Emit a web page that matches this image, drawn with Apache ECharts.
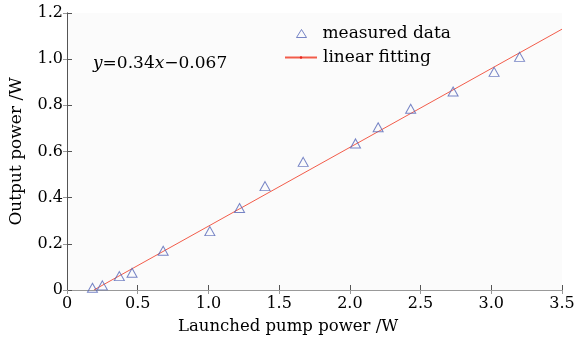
<!DOCTYPE html>
<html><head><meta charset="utf-8">
<script src="https://cdn.jsdelivr.net/npm/echarts@6/dist/echarts.min.js"></script>
<style>html,body{margin:0;padding:0;background:#fff}#c{width:579px;height:343px}</style>
</head><body><div id="c"></div>
<script>
// Data
const measuredX = [0.18, 0.25, 0.37, 0.46, 0.68, 1.01, 1.22, 1.40, 1.67, 2.04, 2.20, 2.43, 2.73, 3.02, 3.20];
const measuredY = [0.01, 0.02, 0.06, 0.075, 0.17, 0.255, 0.355, 0.45, 0.555, 0.635, 0.705, 0.785, 0.86, 0.945, 1.01];
const fitX = [0.19, 3.5];
const fitY = [0.0, 1.13];
const seriesNames = ['measured data', 'linear fitting'];
const xTitle = 'Launched pump power /W';
const yTitle = 'Output power /W';

const FONT = 'DejaVu Serif';
const AX = '#555';
const TXT = '#000';
const chart = echarts.init(document.getElementById('c'), null, {renderer: 'canvas'});
const fmt = v => v === 0 ? '0' : v.toFixed(1);
const baseAxis = {
  axisLine: {show: true, lineStyle: {color: AX, width: 1}},
  axisTick: {show: true, inside: true, length: 5, lineStyle: {color: AX}},
  splitLine: {show: false}
};
chart.setOption({
  backgroundColor: '#fff',
  animation: false,
  grid: {left: 64, right: 17, top: 13, bottom: 53, show: true, backgroundColor: '#fbfbfb', borderWidth: 0},
  legend: [
    {
      orient: 'vertical', left: 296, top: 25, padding: 0, itemWidth: 10, itemHeight: 8,
      textStyle: {fontFamily: FONT, fontSize: 17, color: TXT, padding: [0, 0, 0, 11]},
      data: [{name: seriesNames[0], icon: 'triangle',
              itemStyle: {color: 'rgba(0,0,0,0)', borderColor: '#5566b8', borderWidth: 1}}]
    },
    {
      orient: 'vertical', left: 284, top: 49, padding: 0, itemWidth: 32, itemHeight: 3,
      textStyle: {fontFamily: FONT, fontSize: 17, color: TXT, padding: [0, 0, 0, 1]},
      data: [{name: seriesNames[1]}]
    }
  ],
  xAxis: [
    Object.assign({}, baseAxis, {
      type: 'value', min: 0, max: 3.5, interval: 0.5, position: 'bottom',
      axisLabel: {fontFamily: FONT, fontSize: 16, color: TXT, margin: 6, formatter: fmt}
    }),
    Object.assign({}, baseAxis, {
      type: 'value', min: 0, max: 3.5, interval: 0.5, position: 'top',
      axisLine: {show: true, lineStyle: {color: '#999'}},
      axisTick: {show: true, inside: true, length: 4, lineStyle: {color: '#999'}},
      axisLabel: {show: false}
    })
  ],
  yAxis: [
    Object.assign({}, baseAxis, {
      type: 'value', min: 0, max: 1.2, interval: 0.2, position: 'left',
      name: yTitle, nameLocation: 'middle', nameGap: 42, nameRotate: 90,
      nameTextStyle: {fontFamily: FONT, fontSize: 17, color: TXT},
      axisLabel: {fontFamily: FONT, fontSize: 16, color: TXT, margin: 4, formatter: fmt}
    }),
    Object.assign({}, baseAxis, {
      type: 'value', min: 0, max: 1.2, interval: 0.2, position: 'right',
      axisLine: {show: true, lineStyle: {color: AX}},
      axisTick: {show: true, inside: true, length: 4, lineStyle: {color: '#999'}},
      axisLabel: {show: false}
    })
  ],
  graphic: [
    {
      type: 'text', left: 93, top: 55,
      style: {
        text: '{i|y}=0.34{i|x}\u22120.067',
        rich: {i: {fontFamily: FONT, fontStyle: 'italic', fontSize: 17, fill: TXT}},
        fontFamily: FONT, fontSize: 17, fill: TXT
      }
    },
    {
      type: 'text', left: 178, top: 318,
      style: {text: xTitle, fontFamily: FONT, fontSize: 16.5, fill: TXT}
    }
  ],
  series: [
    {
      name: seriesNames[0], type: 'scatter', symbol: 'triangle', symbolSize: [10, 9],
      itemStyle: {color: 'rgba(0,0,0,0)', borderColor: '#5566b8', borderWidth: 1},
      data: measuredX.map((x, i) => [x, measuredY[i]]), z: 3
    },
    {
      name: seriesNames[1], type: 'line', symbol: 'circle', symbolSize: 3, showSymbol: false,
      lineStyle: {color: '#f25c4a', width: 1}, itemStyle: {color: '#e8231a'},
      data: fitX.map((x, i) => [x, fitY[i]]), z: 2
    }
  ]
});
</script></body></html>
